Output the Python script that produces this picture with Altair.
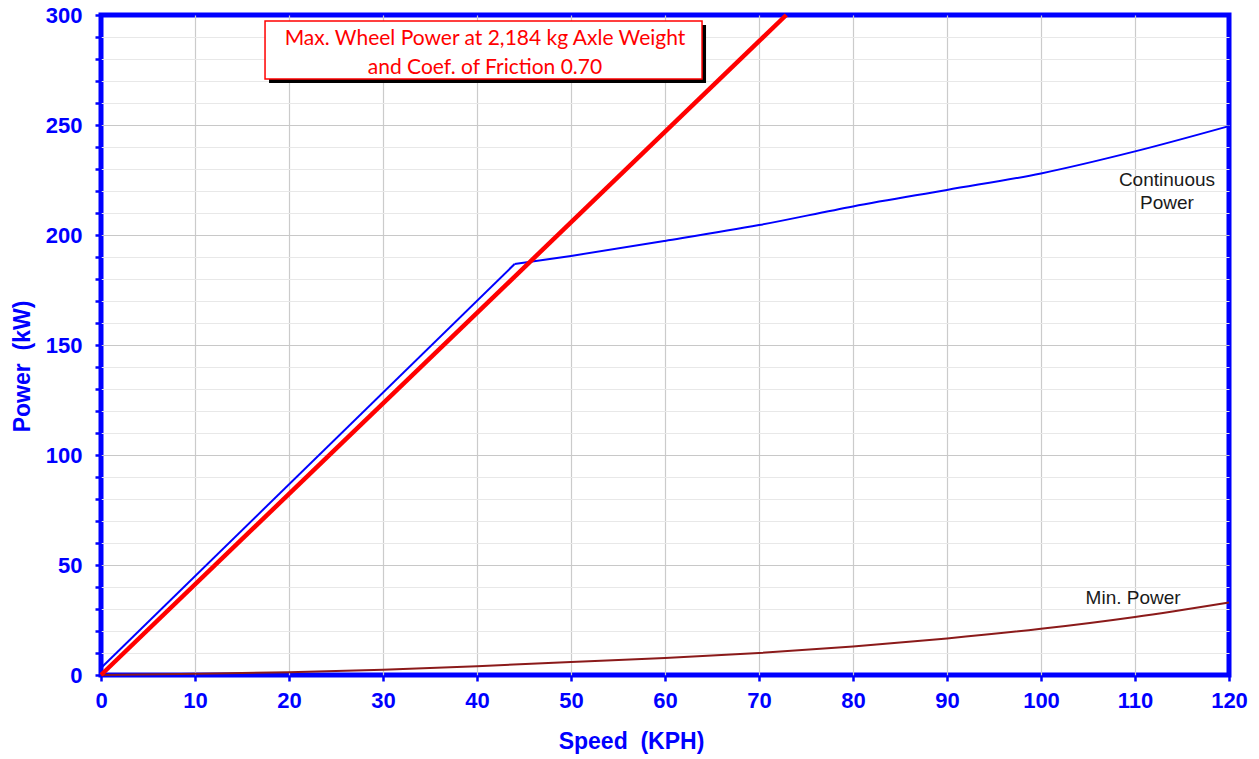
import altair as alt
import pandas as pd

# ---- data ----
speed_cont = [0, 44, 50, 60, 70, 80, 90, 100, 110, 120]
power_cont = [3.2, 186.8, 190.5, 197.3, 204.5, 213.0, 220.5, 228.0, 238.0, 249.5]

speed_min = [0, 10, 20, 30, 40, 50, 60, 70, 80, 90, 100, 110, 120]
power_min = [0, 0.6, 1.3, 2.4, 4.0, 5.9, 7.7, 10.0, 13.0, 16.6, 21.0, 26.4, 33.0]

speed_max = [0, 72.9]
power_max = [0, 300]

x_ticks = list(range(0, 121, 10))
y_ticks = list(range(0, 301, 10))

label_text = ["Continuous", "Power", "Min. Power"]
label_speed = [113.4, 113.4, 109.8]
label_power = [225.0, 214.5, 35.0]

box_lines = ["Max. Wheel Power at 2,184 kg Axle Weight", "and Coef. of Friction 0.70"]
box_line_speed = [40.85, 40.85]
box_line_power = [289.0, 276.0]
box_x = [17.45, 63.94]
box_y = [270.9, 297.3]

BLUE = "#0000ff"

axis_x = alt.Axis(
    values=x_ticks, title="Speed\u00a0 (KPH)", grid=True, gridColor="#cbcbcb", gridWidth=1.2,
    gridOpacity={"condition": {"test": "datum.value === 0 || datum.value === 120", "value": 0}, "value": 1},
    domain=False, tickColor=BLUE, tickWidth=2.5, tickSize=6,
    labelFont="Liberation Sans", labelFontWeight="bold", labelFontSize=22, labelColor=BLUE,
    labelPadding=9, labelFlush=False,
    titleFont="Liberation Sans", titleFontWeight="bold", titleFontSize=23, titleColor=BLUE,
    titleX=530, titleY=66, titleBaseline="middle", titleAlign="center",
)
axis_y = alt.Axis(
    values=y_ticks, title="Power\u00a0 (kW)", grid=True,
    gridColor={"condition": {"test": "datum.value % 50 === 0", "value": "#c8c8c8"}, "value": "#e8e8e8"},
    gridOpacity={"condition": {"test": "datum.value === 0 || datum.value === 300", "value": 0}, "value": 1},
    gridWidth=1.2,
    domain=False, tickColor=BLUE, tickWidth=2.5, tickSize=6,
    labelExpr="datum.value % 50 === 0 ? datum.label : ''",
    labelFont="Liberation Sans", labelFontWeight="bold", labelFontSize=22, labelColor=BLUE,
    labelPadding=13, labelFlush=False,
    titleFont="Liberation Sans", titleFontWeight="bold", titleFontSize=23, titleColor=BLUE,
    titleX=-79, titleY=351, titleBaseline="middle", titleAlign="center",
)
xs = alt.Scale(domain=[0, 120], nice=False, zero=False)
ys = alt.Scale(domain=[0, 300], nice=False, zero=False)


def X(field="speed"):
    return alt.X(f"{field}:Q", scale=xs, axis=axis_x)


def Y(field="power"):
    return alt.Y(f"{field}:Q", scale=ys, axis=axis_y)


df_cont = pd.DataFrame({"speed": speed_cont, "power": power_cont})
df_min = pd.DataFrame({"speed": speed_min, "power": power_min})
df_max = pd.DataFrame({"speed": speed_max, "power": power_max})
df_lab = pd.DataFrame({"speed": label_speed, "power": label_power, "text": label_text})
df_boxlines = pd.DataFrame({"speed": box_line_speed, "power": box_line_power, "text": box_lines})
df_box = pd.DataFrame({"speed": [box_x[0]], "speed2": [box_x[1]], "power": [box_y[0]], "power2": [box_y[1]]})

cont1 = alt.Chart(df_cont.iloc[0:2]).mark_line(color=BLUE, strokeWidth=2).encode(x=X(), y=Y())
cont2 = alt.Chart(df_cont.iloc[1:]).mark_line(color=BLUE, strokeWidth=2, interpolate="monotone").encode(x=X(), y=Y())
minp = alt.Chart(df_min).mark_line(color="#8b1a1a", strokeWidth=2, interpolate="monotone").encode(x=X(), y=Y())
maxp = alt.Chart(df_max).mark_line(color="#ff0000", strokeWidth=4.5).encode(x=X(), y=Y())

labels = alt.Chart(df_lab).mark_text(font="Liberation Sans", fontSize=19, color="#1a1a1a",
                                     align="center", baseline="middle").encode(x=X(), y=Y(), text="text:N")

shadow = alt.Chart(df_box).mark_rect(color="#000000", xOffset=4, x2Offset=4, yOffset=4, y2Offset=4).encode(
    x=X(), x2="speed2:Q", y=Y(), y2="power2:Q")
box = alt.Chart(df_box).mark_rect(fill="#ffffff", stroke="#ff0000", strokeWidth=1.5).encode(
    x=X(), x2="speed2:Q", y=Y(), y2="power2:Q")
box_text = alt.Chart(df_boxlines).mark_text(font="Lato", fontSize=21, color="#ff0000",
                                            align="center", baseline="middle").encode(x=X(), y=Y(), text="text:N")

chart = alt.layer(cont1, cont2, minp, maxp, labels, shadow, box, box_text).properties(
    width=1128, height=660,
    autosize=alt.AutoSizeParams(type="none"),
    padding={"left": 101, "top": 15, "right": 30, "bottom": 84},
    background="#ffffff",
).configure_view(stroke=BLUE, strokeWidth=5)

chart.save("out.html", embed_options={"renderer": "svg", "actions": False})
